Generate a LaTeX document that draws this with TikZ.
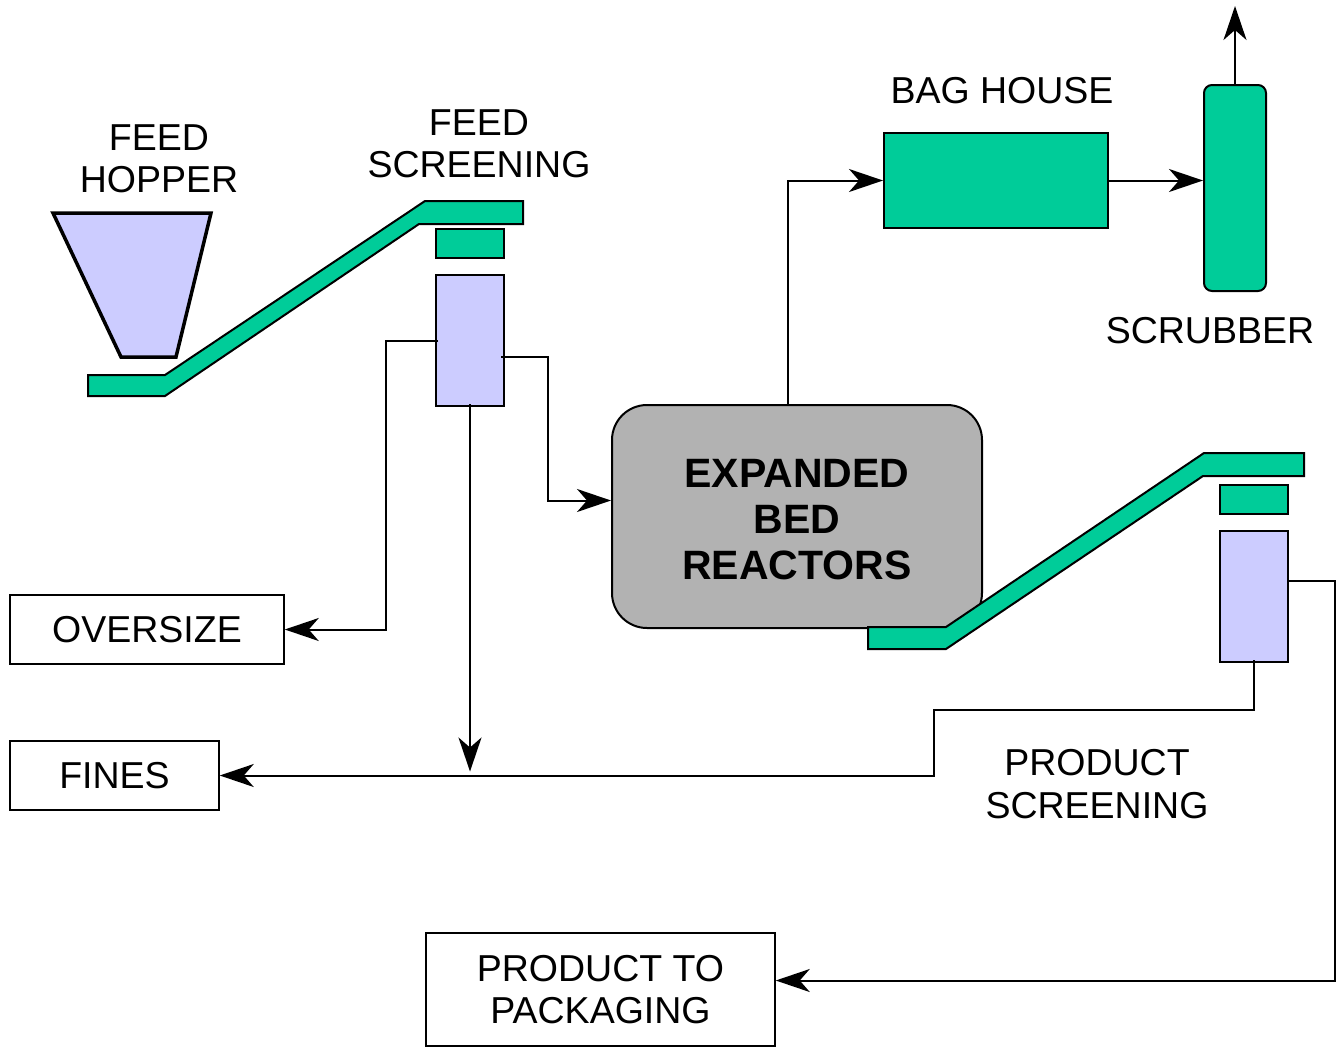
\documentclass[tikz,border=0pt]{standalone}
\usepackage{fontspec}
\setmainfont{Liberation Sans}
\usetikzlibrary{arrows.meta,calc}
\definecolor{grn}{HTML}{00CC99}
\definecolor{lav}{HTML}{CCCCFF}
\definecolor{rgray}{HTML}{B2B2B2}
\begin{document}
\begin{tikzpicture}[x=1pt,y=-1pt,
  conn/.style={line width=2pt},
  arr/.style={conn,-{Stealth[length=34pt,width=23pt,inset=10pt]}},
  lbl/.style={font=\fontsize{37.5}{42.5}\selectfont,align=center,inner sep=0pt},
  outbox/.style={draw,line width=1.5pt,inner sep=0pt,font=\fontsize{37.5}{42.5}\selectfont,align=center},
  belt/.style={draw,fill=grn,line width=2pt,line join=miter}]
\path[use as bounding box,fill=white] (0,0) rectangle (1336,1047);

% hopper
\draw[fill=lav,line width=3.5pt] (53,213) -- (211,213) -- (176,357) -- (121,357) -- cycle;
\node[lbl] (hopperlbl) at (159,159) {FEED\\HOPPER};

% feed conveyor
\draw[belt] (88,375) -- (165,375) -- (425,201) -- (523,201) -- (523,224) -- (419,224) -- (165,396) -- (88,396) -- cycle;
\node[lbl] (fslbl) at (479,144) {FEED\\SCREENING};
\node[draw,fill=grn,line width=2pt,inner sep=0pt,minimum width=68pt,minimum height=29pt] (g1) at (470,243.5) {};
\node[draw,fill=lav,line width=2pt,inner sep=0pt,minimum width=68pt,minimum height=131pt] (s1) at (470,340.5) {};

% reactor
\node[draw,fill=rgray,line width=2pt,rounded corners=35pt,minimum width=370pt,minimum height=223pt] (reactor) at (797,516.5) {};
\node[font=\fontsize{41}{46}\selectfont\bfseries,align=center,inner sep=0pt] (reactorlbl) at (797,520) {EXPANDED\\BED\\REACTORS};

% bag house and scrubber
\node[draw,fill=grn,line width=2pt,inner sep=0pt,minimum width=224pt,minimum height=95pt] (bag) at (996,180.5) {};
\node[lbl] (baglbl) at (1002,91) {BAG HOUSE};
\node[draw,fill=grn,line width=2pt,inner sep=0pt,rounded corners=8pt,minimum width=62pt,minimum height=206pt] (scrub) at (1235,188) {};
\node[lbl] (scrublbl) at (1210,331) {SCRUBBER};
\coordinate (stack) at (1235,6);

% product conveyor
\draw[belt] (868,627) -- (946,627) -- (1204,453) -- (1304,453) -- (1304,476) -- (1203,476) -- (946,649) -- (868,649) -- cycle;
\node[draw,fill=grn,line width=2pt,inner sep=0pt,minimum width=68pt,minimum height=29pt] (g2) at (1254,499.5) {};
\node[draw,fill=lav,line width=2pt,inner sep=0pt,minimum width=68pt,minimum height=131pt] (s2) at (1254,596.5) {};
\node[lbl] (pslbl) at (1097,784) {PRODUCT\\SCREENING};

% output boxes
\node[outbox,minimum width=274pt,minimum height=69pt] (oversize) at (147,629.5) {OVERSIZE};
\node[outbox,minimum width=209pt,minimum height=69pt] (fines) at (114.5,775.5) {FINES};
\node[outbox,minimum width=349pt,minimum height=113pt] (pack) at (600.5,989.5) {PRODUCT TO\\PACKAGING};

% connectors
\draw[arr] ([xshift=3pt]s1.west) -- ++(-52,0) |- (oversize.east);
\draw[arr] ([xshift=-4pt,yshift=-16pt]s1.east) -- ++(47,0) |- ([yshift=16pt]reactor.west);
\draw[arr] ([yshift=3pt]s1.south) -- ([yshift=4pt]s1.south |- fines.east);
\draw[arr] ([xshift=-9pt]reactor.north) |- (bag.west);
\draw[arr] (bag.east) -- (bag.east -| scrub.west);
\draw[arr] (scrub.north) -- (stack);
\draw[arr] ([yshift=15.5pt]s2.east) -- ++(46,0) |- ([yshift=9pt]pack.east);
\draw[arr] ([yshift=3pt]s2.south) -- ++(0,50) -- ++(-320,0) |- (fines.east);
\end{tikzpicture}
\end{document}
